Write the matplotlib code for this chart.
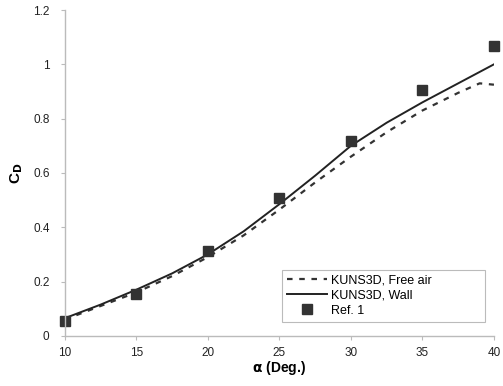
import matplotlib.pyplot as plt

plt.rcParams['font.family'] = ['Liberation Sans', 'DejaVu Sans']

# Données
alpha_wall = [10, 12.5, 15, 17.5, 20, 22.5, 25, 27.5, 30, 32.5, 35, 37.5, 40]
cd_wall = [0.065, 0.115, 0.17, 0.23, 0.30, 0.385, 0.485, 0.59, 0.70, 0.785, 0.86, 0.93, 1.0]

alpha_free = [10, 12.5, 15, 17.5, 20, 22.5, 25, 27.5, 30, 32.5, 35, 37.5, 39, 40]
cd_free = [0.06, 0.11, 0.16, 0.22, 0.29, 0.37, 0.465, 0.565, 0.66, 0.75, 0.83, 0.895, 0.93, 0.925]

alpha_ref = [10, 15, 20, 25, 30, 35, 40]
cd_ref = [0.055, 0.155, 0.313, 0.508, 0.718, 0.905, 1.067]

fig = plt.figure(figsize=(5.03, 3.86), dpi=100)
ax = fig.add_axes([0.129, 0.130, 0.853, 0.844])

ax.plot(alpha_free, cd_free, color='#333333', linestyle=(0, (2.5, 3)), linewidth=1.6,
        label='KUNS3D, Free air')
ax.plot(alpha_wall, cd_wall, color='#222222', linestyle='-', linewidth=1.4,
        label='KUNS3D, Wall')
ax.plot(alpha_ref, cd_ref, 's', color='#333333', markersize=6.5, linestyle='none',
        label='Ref. 1', clip_on=False)

ax.set_xlim(10, 40)
ax.set_ylim(0, 1.2)
ax.set_xticks([10, 15, 20, 25, 30, 35, 40])
ax.set_yticks([0, 0.2, 0.4, 0.6, 0.8, 1.0, 1.2])
ax.set_yticklabels(['0', '0.2', '0.4', '0.6', '0.8', '1', '1.2'])

for s in ['top', 'right']:
    ax.spines[s].set_visible(False)
for s in ['left', 'bottom']:
    ax.spines[s].set_color('#bbbbbb')
    ax.spines[s].set_linewidth(1.0)
ax.tick_params(direction='out', length=3, color='#bbbbbb', labelsize=8.5,
               labelcolor='#222222')
ax.tick_params(axis='x', pad=5)
ax.tick_params(axis='y', pad=8)

ax.set_xlabel(r'$\mathbf{\alpha}$ (Deg.)', fontsize=10, fontweight='bold', labelpad=0)
ax.set_ylabel('C$_\\mathbf{D}$', fontsize=11, fontweight='bold', labelpad=6)

leg = ax.legend(loc='lower left', bbox_to_anchor=(0.506, 0.043, 0.473, 0.166),
                mode='expand', fontsize=9, frameon=True, fancybox=False,
                edgecolor='#aaaaaa', handlelength=3.2, borderaxespad=0,
                labelspacing=0.25, handletextpad=0.3)
leg.get_frame().set_linewidth(0.8)

plt.savefig('out.png', dpi=100)
